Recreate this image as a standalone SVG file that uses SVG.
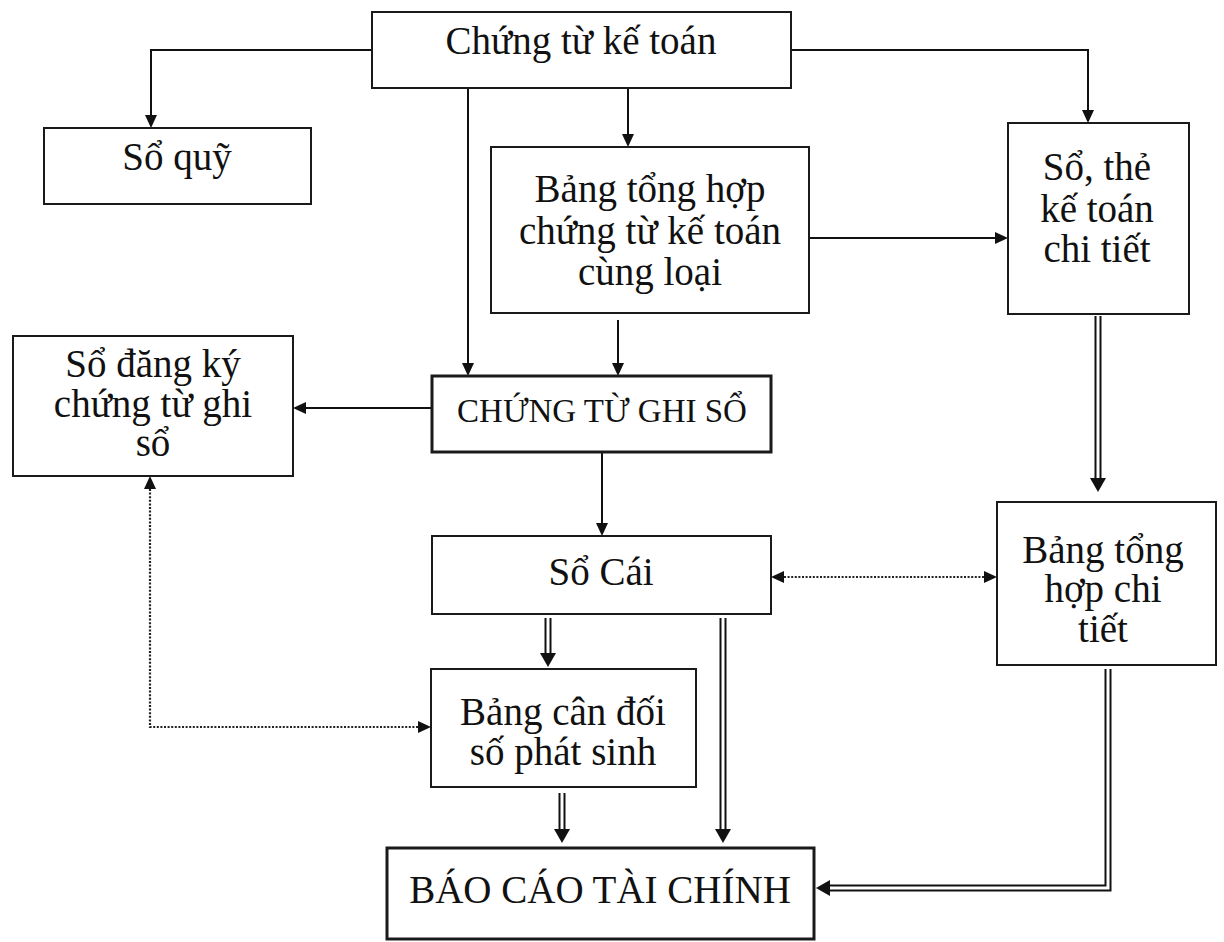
<svg xmlns="http://www.w3.org/2000/svg" width="1224" height="942" viewBox="0 0 1224 942">
<style>
.box{fill:#fff;stroke:#1a1a1a;stroke-width:2}
.bold{stroke-width:3}
.t{font-family:"Liberation Serif","Times New Roman",serif;font-size:39px;fill:#111;text-anchor:middle}
.t2{font-size:33px}
.ln{fill:none;stroke:#111;stroke-width:2}
.dot{fill:none;stroke:#222;stroke-width:2.2;stroke-dasharray:2 1.6}
.dbl{fill:none;stroke:#111;stroke-width:7}
.dblw{fill:none;stroke:#fff;stroke-width:3}
</style>
<defs>
<marker id="a" markerUnits="userSpaceOnUse" markerWidth="14" markerHeight="14" refX="0" refY="6" orient="auto-start-reverse"><path d="M0,0 L13,6 L0,12 z" fill="#111"/></marker>
<marker id="b" markerUnits="userSpaceOnUse" markerWidth="15" markerHeight="16" refX="0" refY="8" orient="auto"><path d="M0,0 L14,8 L0,16 z" fill="#111"/></marker>
</defs>
<g id="connectors">
<path class="ln" d="M372,50 H151 V115" marker-end="url(#a)"/>
<path class="ln" d="M791,50 H1088 V110" marker-end="url(#a)"/>
<path class="ln" d="M468,88 V363" marker-end="url(#a)"/>
<path class="ln" d="M628,88 V134" marker-end="url(#a)"/>
<path class="ln" d="M618,320 V363" marker-end="url(#a)"/>
<path class="ln" d="M809,238 H995" marker-end="url(#a)"/>
<path class="ln" d="M432,408 H306" marker-end="url(#a)"/>
<path class="ln" d="M602,452 V523" marker-end="url(#a)"/>
<path class="dot" d="M784,577 H984" marker-start="url(#a)" marker-end="url(#a)"/>
<path class="dot" d="M418,727 H150 V489" marker-start="url(#a)" marker-end="url(#a)"/>
<path class="dbl" d="M1098,316 V478" marker-end="url(#b)"/>
<path class="dblw" d="M1098,316 V478"/>
<path class="dbl" d="M548,618 V653" marker-end="url(#b)"/>
<path class="dblw" d="M548,618 V653"/>
<path class="dbl" d="M723,618 V829" marker-end="url(#b)"/>
<path class="dblw" d="M723,618 V829"/>
<path class="dbl" d="M562,793 V829" marker-end="url(#b)"/>
<path class="dblw" d="M562,793 V829"/>
<path class="dbl" d="M1108,669 V888 H830" marker-end="url(#b)"/>
<path class="dblw" d="M1108,669 V888 H830"/>
</g>
<g id="chung-tu-ke-toan"><rect class="box" x="372" y="12" width="419" height="76"/><text class="t" x="581" y="54">Chứng từ kế toán</text></g>
<g id="so-quy"><rect class="box" x="44" y="128" width="267" height="76"/><text class="t" x="177" y="170">Sổ quỹ</text></g>
<g id="bang-tong-hop-chung-tu"><rect class="box" x="491" y="147" width="318" height="166"/><text class="t" x="650" y="202">Bảng tổng hợp</text><text class="t" x="650" y="244">chứng từ kế toán</text><text class="t" x="650" y="285">cùng loại</text></g>
<g id="so-the-chi-tiet"><rect class="box" x="1008" y="123" width="181" height="191"/><text class="t" x="1097" y="180">Sổ, thẻ</text><text class="t" x="1097" y="222">kế toán</text><text class="t" x="1097" y="262">chi tiết</text></g>
<g id="so-dang-ky"><rect class="box" x="13" y="336" width="280" height="140"/><text class="t" x="153" y="377">Sổ đăng ký</text><text class="t" x="153" y="417">chứng từ ghi</text><text class="t" x="153" y="456">sổ</text></g>
<g id="chung-tu-ghi-so"><rect class="box bold" x="432" y="376" width="339" height="76"/><text class="t t2" x="602" y="422">CHỨNG TỪ GHI SỔ</text></g>
<g id="so-cai"><rect class="box" x="432" y="536" width="339" height="78"/><text class="t" x="601" y="585">Sổ Cái</text></g>
<g id="bang-tong-hop-chi-tiet"><rect class="box" x="997" y="502" width="219" height="163"/><text class="t" x="1103" y="563">Bảng tổng</text><text class="t" x="1103" y="602">hợp chi</text><text class="t" x="1103" y="642">tiết</text></g>
<g id="bang-can-doi"><rect class="box" x="431" y="669" width="265" height="118"/><text class="t" x="563" y="725">Bảng cân đối</text><text class="t" x="563" y="765">số phát sinh</text></g>
<g id="bao-cao-tai-chinh"><rect class="box bold" x="387" y="848" width="427" height="91"/><text class="t" x="600" y="903">BÁO CÁO TÀI CHÍNH</text></g>
</svg>
